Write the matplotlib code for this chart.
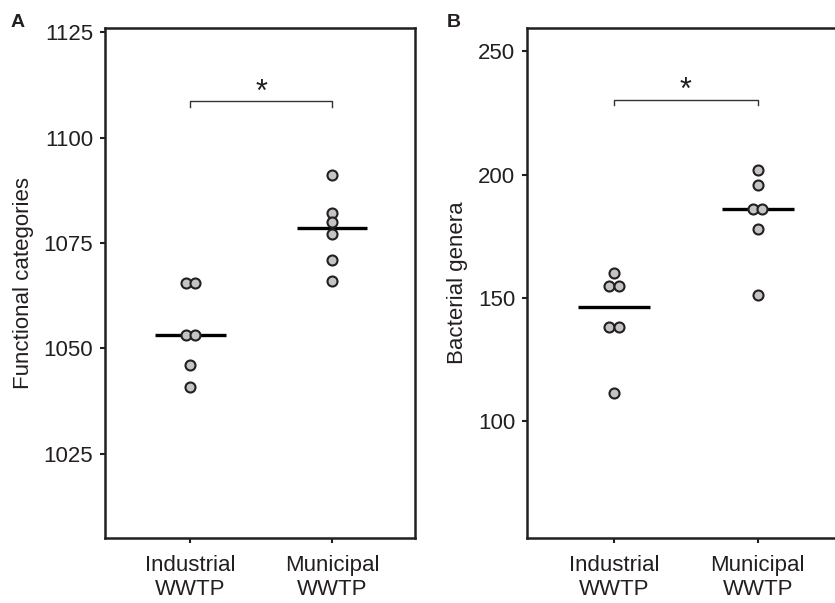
import numpy as np
import matplotlib
matplotlib.use("Agg")
import matplotlib.pyplot as plt

plt.rcParams['font.family'] = ['Liberation Sans', 'DejaVu Sans']

groups = ["Industrial\nWWTP", "Municipal\nWWTP"]

# panel A - functional categories
func_industrial = [1065.5, 1065.5, 1053.1, 1053.1, 1046.0, 1040.8]
func_municipal = [1091.1, 1082.0, 1080.0, 1077.2, 1071.0, 1065.9]

# panel B - bacterial genera
gen_industrial = [160.0, 154.6, 154.6, 138.2, 138.2, 111.3]
gen_municipal = [201.8, 195.8, 185.9, 185.9, 177.9, 150.9]

spine_col = "#231f20"
fill_col = "#c4c4c4"
fs = 16


def dotplot(ax, data, ylim, yticks, ylabel, bracket_y, xlim):
	for i, vals in enumerate(data):
		xc = i + 1
		vals = np.array(vals)
		xs = np.full(len(vals), float(xc))
		# nudge tied values side by side
		for v in np.unique(vals):
			idx = np.where(vals == v)[0]
			if len(idx) == 2:
				xs[idx[0]] -= 0.032
				xs[idx[1]] += 0.032
		ax.hlines(np.median(vals), xc - 0.25, xc + 0.25, color="black", lw=2.4, zorder=2)
		ax.scatter(xs, vals, s=52, facecolor=fill_col, edgecolor=spine_col, linewidth=1.5, zorder=3)
	# significance bracket
	h = (ylim[1] - ylim[0]) * 0.011
	ax.plot([1, 1, 2, 2], [bracket_y - h, bracket_y, bracket_y, bracket_y - h], color="#333333", lw=1.0)
	ax.text(1.5, bracket_y - h * 1.2, "*", ha="center", va="bottom", fontsize=22, color="#231f20")
	ax.set_xlim(*xlim)
	ax.set_ylim(*ylim)
	ax.set_yticks(yticks)
	ax.set_xticks([1, 2])
	ax.set_xticklabels(groups, fontsize=fs, color="#231f20", linespacing=1.15)
	ax.tick_params(axis="y", labelsize=fs, labelcolor="#231f20", length=3.5, width=1.5, color=spine_col, pad=5)
	ax.tick_params(axis="x", length=3.5, width=1.5, color=spine_col, pad=9)
	ax.set_ylabel(ylabel, fontsize=fs, color="#231f20", labelpad=7)
	for s in ax.spines.values():
		s.set_linewidth(1.8)
		s.set_color(spine_col)


fig = plt.figure(figsize=(8.35, 6.03), dpi=100)
axA = fig.add_axes([0.1257, 0.1078, 0.3713, 0.8458])
axB = fig.add_axes([0.6311, 0.1078, 0.3713, 0.8458])

dotplot(axA, [func_industrial, func_municipal], (1005, 1126), [1025, 1050, 1075, 1100, 1125],
	"Functional categories", 1108.7, (0.4, 2.585))
dotplot(axB, [gen_industrial, gen_municipal], (52.4, 259.5), [100, 150, 200, 250],
	"Bacterial genera", 230.4, (0.396, 2.55))

fig.text(0.012, 0.955, "A", fontsize=14, fontweight="bold", color="#231f20")
fig.text(0.535, 0.955, "B", fontsize=14, fontweight="bold", color="#231f20")

plt.savefig("out.png", dpi=100)
